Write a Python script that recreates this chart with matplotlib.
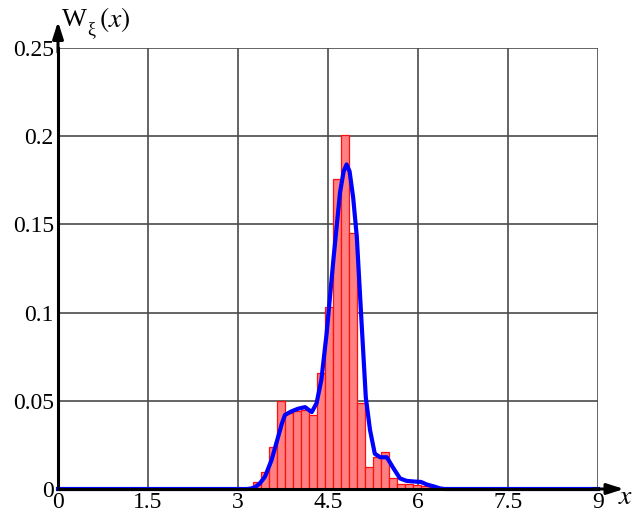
import matplotlib
matplotlib.use("Agg")
import matplotlib.pyplot as plt
import numpy as np

plt.rcParams['font.family'] = ['Liberation Serif', 'DejaVu Serif']
plt.rcParams['mathtext.fontset'] = 'stix'

# Histogram (bin left edges, heights)
bin_width = 0.1333
bin_left = [3.25, 3.383, 3.517, 3.65, 3.783, 3.917, 4.05, 4.183, 4.317, 4.45,
            4.583, 4.717, 4.85, 4.983, 5.117, 5.25, 5.383, 5.517, 5.65, 5.783,
            5.917, 6.05, 6.183]
bin_height = [0.004, 0.0095, 0.024, 0.050, 0.043, 0.0445, 0.045, 0.042, 0.0657, 0.103,
              0.1755, 0.2007, 0.145, 0.049, 0.0122, 0.018, 0.0207, 0.006, 0.003, 0.0027,
              0.002, 0.0015, 0.001]

# Density curve
curve_x = [0.0, 3.15, 3.22, 3.283, 3.36, 3.45, 3.56, 3.67, 3.73, 3.783, 3.89, 4.0,
           4.117, 4.23, 4.31, 4.39, 4.478, 4.59, 4.7, 4.76, 4.81, 4.86, 4.92, 4.98,
           5.06, 5.13, 5.2, 5.28, 5.37, 5.48, 5.59, 5.7, 5.81, 5.95, 6.05, 6.15,
           6.26, 6.37, 6.45, 9.0]
curve_y = [0.0, 0.0, 0.0003, 0.001, 0.003, 0.007, 0.0165, 0.0297, 0.037, 0.042, 0.044, 0.0455,
           0.0464, 0.0436, 0.0487, 0.062, 0.0885, 0.130, 0.168, 0.180, 0.184, 0.180, 0.165, 0.143,
           0.094, 0.052, 0.0335, 0.020, 0.018, 0.018, 0.0118, 0.006, 0.0046, 0.0042, 0.004, 0.0025,
           0.0015, 0.0003, 0.0, 0.0]

xticks = [0, 1.5, 3, 4.5, 6, 7.5, 9]
xtick_labels = ['0', '1.5', '3', '4.5', '6', '7.5', '9']
yticks = [0, 0.05, 0.1, 0.15, 0.2, 0.25]
ytick_labels = ['0', '0.05', '0.1', '0.15', '0.2', '0.25']

W, H = 634, 513
fig = plt.figure(figsize=(W / 100, H / 100), dpi=100)
ax = fig.add_axes([58 / W, 24 / H, 540 / W, 441 / H])

ax.bar(bin_left, bin_height, width=bin_width, align='edge',
       facecolor='#ff8080', edgecolor='#ff1010', linewidth=0.9, zorder=2)
ax.plot(curve_x, curve_y, color='#0000ff', linewidth=3.0, zorder=3,
        solid_joinstyle='round', clip_on=False)

ax.set_xlim(0, 9)
ax.set_ylim(0, 0.25)
ax.set_xticks(xticks)
ax.set_xticklabels(xtick_labels)
ax.set_yticks(yticks)
ax.set_yticklabels(ytick_labels)
ax.tick_params(axis='both', length=0, labelsize=17, colors='black')
ax.tick_params(axis='x', pad=2)
ax.tick_params(axis='y', pad=3)
ax.grid(True, color='#4a4a4a', linewidth=1.2, zorder=1)
ax.set_axisbelow(True)

for s in ['top', 'right']:
    ax.spines[s].set_visible(False)
for s in ['left', 'bottom']:
    ax.spines[s].set_linewidth(2.2)
    ax.spines[s].set_color('black')
    ax.spines[s].set_zorder(4)

# arrows on axes
ax.annotate('', xy=(1.048, 0), xytext=(0.99, 0), xycoords='axes fraction',
            arrowprops=dict(arrowstyle='-|>,head_length=1.0,head_width=0.32',
                            color='black', lw=2.2, shrinkA=0, shrinkB=0),
            annotation_clip=False)
ax.annotate('', xy=(0, 1.06), xytext=(0, 0.99), xycoords='axes fraction',
            arrowprops=dict(arrowstyle='-|>,head_length=1.0,head_width=0.32',
                            color='black', lw=2.2, shrinkA=0, shrinkB=0),
            annotation_clip=False)

# y-axis label built from pieces: W, upright xi subscript, (x)
fig.text(62 / W, 1 - 20 / H, 'W', fontsize=19, ha='left', va='center')
fig.text(87 / W, 1 - 30 / H, 'ξ', fontsize=13, ha='left', va='center')
fig.text(99 / W, 1 - 20 / H, r'$\left(x\right)$', fontsize=20, ha='left', va='center')
fig.text(633 / W, 1 - 497 / H, r'$x$', fontsize=20, ha='right', va='center')

fig.savefig('out.png', dpi=100)
